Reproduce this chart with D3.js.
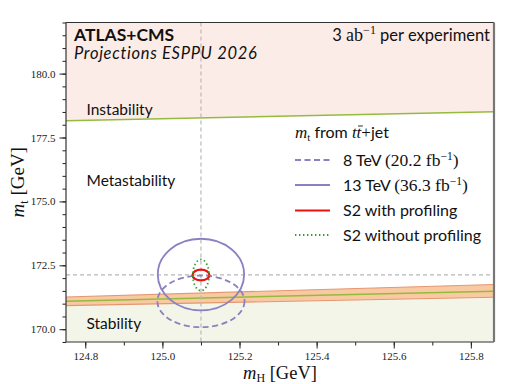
<!DOCTYPE html>
<html>
<head>
<meta charset="utf-8">
<script src="https://cdn.jsdelivr.net/npm/d3@7/dist/d3.min.js"></script>
<style>
  body { margin: 0; background: #fff; }
  .axis text { font-family: "Liberation Serif", serif; font-size: 11px; fill: #222; }
  .axis path { display: none; }
  .axis line { stroke: #222; }
  .sans { font-family: "Lato", "Open Sans", sans-serif; }
  .serif { font-family: "Liberation Serif", serif; }
</style>
</head>
<body>
<svg id="chart" width="512" height="384"></svg>
<script>
// axis ranges and ticks
var xDomain = [124.75, 125.86],
    yDomain = [169.5, 182.0];
var xMajorTicks = [124.8, 125.0, 125.2, 125.4, 125.6, 125.8];
var yMajorTicks = [170.0, 172.5, 175.0, 177.5, 180.0];

// boundary lines [mH, mt]
var instabilityLine = [[124.75, 178.16], [125.86, 178.51]];
var stabilityLine = [[124.75, 171.09], [125.86, 171.49]];
var stabilityBandLow = [[124.75, 170.92], [125.86, 171.25]];
var stabilityBandHigh = [[124.75, 171.26], [125.86, 171.75]];

// central values (crosshair)
var centreMH = 125.1,
    centreMT = 172.13;

// contours: centre and half-axes in GeV
var contourNames = ["8 TeV", "13 TeV", "S2 with profiling", "S2 without profiling"];
var contourMT = [171.09, 172.14, 172.12, 172.12];
var contourRx = [0.113, 0.112, 0.022, 0.021];
var contourRy = [1.01, 1.40, 0.21, 0.61];

var margin = {top: 22.5, right: 18, bottom: 42, left: 66},
    width = 512 - margin.left - margin.right,
    height = 384 - margin.top - margin.bottom;

var svg = d3.select("#chart");
var g = svg.append("g").attr("transform", "translate(" + margin.left + "," + margin.top + ")");

var x = d3.scaleLinear().domain(xDomain).range([0, width]);
var y = d3.scaleLinear().domain(yDomain).range([height, 0]);

var line = d3.line().x(function(d) { return x(d[0]); }).y(function(d) { return y(d[1]); });

g.append("clipPath").attr("id", "clip")
  .append("rect").attr("width", width).attr("height", height);
var plot = g.append("g").attr("clip-path", "url(#clip)");

// regions
var instab = instabilityLine.concat([[xDomain[1], yDomain[1]], [xDomain[0], yDomain[1]]]);
plot.append("path").attr("d", line(instab) + "Z").attr("fill", "#fcece8");

var stab = stabilityBandLow.concat([[xDomain[1], yDomain[0]], [xDomain[0], yDomain[0]]]);
plot.append("path").attr("d", line(stab) + "Z").attr("fill", "#f4f5e9");

var band = stabilityBandLow.concat(stabilityBandHigh.slice().reverse());
plot.append("path").attr("d", line(band) + "Z")
  .attr("fill", "#f9c9a2").attr("stroke", "none");
plot.append("path").attr("d", line(stabilityBandLow)).attr("fill", "none")
  .attr("stroke", "#e39872").attr("stroke-width", 1.2);
plot.append("path").attr("d", line(stabilityBandHigh)).attr("fill", "none")
  .attr("stroke", "#e39872").attr("stroke-width", 1.2);

plot.append("path").attr("d", line(stabilityLine)).attr("fill", "none")
  .attr("stroke", "#94bb3e").attr("stroke-width", 1.5);
plot.append("path").attr("d", line(instabilityLine)).attr("fill", "none")
  .attr("stroke", "#94bb3e").attr("stroke-width", 1.5);

// crosshair
plot.append("line")
  .attr("x1", x(centreMH)).attr("x2", x(centreMH))
  .attr("y1", 0).attr("y2", height)
  .attr("stroke", "#b8b8b8").attr("stroke-width", 1.2).attr("stroke-dasharray", "4,3");
plot.append("line")
  .attr("x1", 0).attr("x2", width)
  .attr("y1", y(centreMT)).attr("y2", y(centreMT))
  .attr("stroke", "#b8b8b8").attr("stroke-width", 1.2).attr("stroke-dasharray", "4,3");

// contour styles
var styles = [
  {stroke: "#8b80c2", width: 1.8, dash: "6,3.5"},
  {stroke: "#8b80c2", width: 1.8, dash: null},
  {stroke: "#ee1111", width: 2.2, dash: null},
  {stroke: "#2fa02f", width: 1.8, dash: "1.4,2.6"}
];

contourNames.forEach(function(n, i) {
  plot.append("ellipse")
    .attr("cx", x(centreMH))
    .attr("cy", y(contourMT[i]))
    .attr("rx", x(centreMH + contourRx[i]) - x(centreMH))
    .attr("ry", y(contourMT[i] - contourRy[i]) - y(contourMT[i]))
    .attr("fill", "none")
    .attr("stroke", styles[i].stroke)
    .attr("stroke-width", styles[i].width)
    .attr("stroke-dasharray", styles[i].dash);
});

// axes
var xMinor = d3.range(0, 11).map(function(i) { return +(124.8 + i * 0.1).toFixed(1); });
var yMinor = d3.range(0, 26).map(function(i) { return 169.5 + i * 0.5; });

g.append("g").attr("class", "axis")
  .attr("transform", "translate(0," + height + ")")
  .call(d3.axisBottom(x).tickValues(xMinor).tickSize(3.5).tickFormat(""));
g.append("g").attr("class", "axis")
  .attr("transform", "translate(0," + height + ")")
  .call(d3.axisBottom(x).tickValues(xMajorTicks).tickSize(6.5).tickPadding(4).tickFormat(d3.format(".1f")));

g.append("g").attr("class", "axis")
  .call(d3.axisLeft(y).tickValues(yMinor).tickSize(3.5).tickFormat(""));
g.append("g").attr("class", "axis")
  .call(d3.axisLeft(y).tickValues(yMajorTicks).tickSize(6.5).tickPadding(4).tickFormat(d3.format(".1f")));

// frame
g.append("line").attr("x1", 0).attr("x2", width).attr("y1", 0).attr("y2", 0).attr("stroke", "#333").attr("stroke-width", 1.2);
g.append("line").attr("x1", 0).attr("x2", width).attr("y1", height).attr("y2", height).attr("stroke", "#333").attr("stroke-width", 1.2);
g.append("line").attr("x1", 0).attr("x2", 0).attr("y1", 0).attr("y2", height).attr("stroke", "#333").attr("stroke-width", 1.2);
g.append("line").attr("x1", width).attr("x2", width).attr("y1", 0).attr("y2", height).attr("stroke", "#777").attr("stroke-width", 2.2);

// axis titles
var xt = svg.append("text").attr("class", "serif")
  .attr("x", margin.left + width / 2).attr("y", 378.5)
  .attr("text-anchor", "middle").attr("font-size", 18.5).attr("fill", "#111");
xt.append("tspan").attr("font-style", "italic").text("m");
xt.append("tspan").attr("font-size", 12).attr("dy", 3).text("H");
xt.append("tspan").attr("dy", -3).text(" [GeV]");

var yt = svg.append("text").attr("class", "serif")
  .attr("transform", "translate(24," + (margin.top + height / 2) + ") rotate(-90)")
  .attr("text-anchor", "middle").attr("font-size", 19).attr("fill", "#111");
yt.append("tspan").attr("font-style", "italic").text("m");
yt.append("tspan").attr("font-size", 12).attr("dy", 4).text("t");
yt.append("tspan").attr("dy", -4).text(" [GeV]");

// labels in plot
svg.append("text").attr("class", "sans").attr("x", 74).attr("y", 40.5)
  .attr("font-size", 17.5).attr("font-weight", "bold").attr("fill", "#111").text("ATLAS+CMS");
svg.append("text").attr("class", "sans").attr("x", 74).attr("y", 58.5)
  .attr("font-size", 16.5).attr("font-style", "italic").attr("letter-spacing", 0.7)
  .attr("fill", "#111").text("Projections ESPPU 2026");

var lumi = svg.append("text").attr("class", "sans").attr("x", 490).attr("y", 41)
  .attr("text-anchor", "end").attr("font-size", 16.5).attr("fill", "#111");
lumi.append("tspan").text("3 ");
lumi.append("tspan").attr("class", "serif").attr("font-size", 18).text("ab");
lumi.append("tspan").attr("class", "serif").attr("font-size", 12).attr("dy", -7).text("\u22121");
lumi.append("tspan").attr("dy", 7).text(" per experiment");

var regionLabels = ["Instability", "Metastability", "Stability"];
var regionY = [115, 186, 329];
regionLabels.forEach(function(t, i) {
  svg.append("text").attr("class", "sans").attr("x", 86.5).attr("y", regionY[i])
    .attr("font-size", 15.5).attr("fill", "#111").text(t);
});

// legend
var leg = svg.append("g").attr("transform", "translate(295,0)");
var lt = leg.append("text").attr("x", 0).attr("y", 138).attr("font-size", 16).attr("fill", "#111");
lt.append("tspan").attr("class", "serif").attr("font-style", "italic").attr("font-size", 17).text("m");
lt.append("tspan").attr("class", "serif").attr("font-size", 11).attr("dy", 3).text("t");
lt.append("tspan").attr("class", "sans").attr("dy", -3).text(" from ");
lt.append("tspan").attr("class", "serif").attr("font-style", "italic").attr("font-size", 17).text("tt");
lt.append("tspan").attr("class", "serif").attr("font-size", 17).text("+");
lt.append("tspan").attr("class", "sans").text("jet");
// bar over the second t
var ltn = lt.node();
var b0 = ltn.getStartPositionOfChar(9).x, b1 = ltn.getEndPositionOfChar(9).x;
leg.append("line").attr("x1", b0 + 1.5).attr("x2", b1 + 1.5).attr("y1", 126).attr("y2", 126)
  .attr("stroke", "#111").attr("stroke-width", 0.9);

var legendRows = [
  {sans: "8 TeV ", serif: "(20.2 fb", sup: true},
  {sans: "13 TeV ", serif: "(36.3 fb", sup: true},
  {sans: "S2 with profiling", serif: "", sup: false},
  {sans: "S2 without profiling", serif: "", sup: false}
];
var rowY = [160, 185, 210.5, 235];
legendRows.forEach(function(r, i) {
  leg.append("line").attr("x1", 0).attr("x2", 35).attr("y1", rowY[i]).attr("y2", rowY[i])
    .attr("stroke", styles[i].stroke).attr("stroke-width", styles[i].width)
    .attr("stroke-dasharray", styles[i].dash);
  var t = leg.append("text").attr("x", 48).attr("y", rowY[i] + 5.5).attr("font-size", 16).attr("fill", "#111");
  t.append("tspan").attr("class", "sans").text(r.sans);
  if (r.sup) {
    t.append("tspan").attr("class", "serif").attr("font-size", 17.5).text(r.serif);
    t.append("tspan").attr("class", "serif").attr("font-size", 11.5).attr("dy", -6).text("\u22121");
    t.append("tspan").attr("class", "serif").attr("font-size", 17.5).attr("dy", 6).text(")");
  }
});
</script>
</body>
</html>
